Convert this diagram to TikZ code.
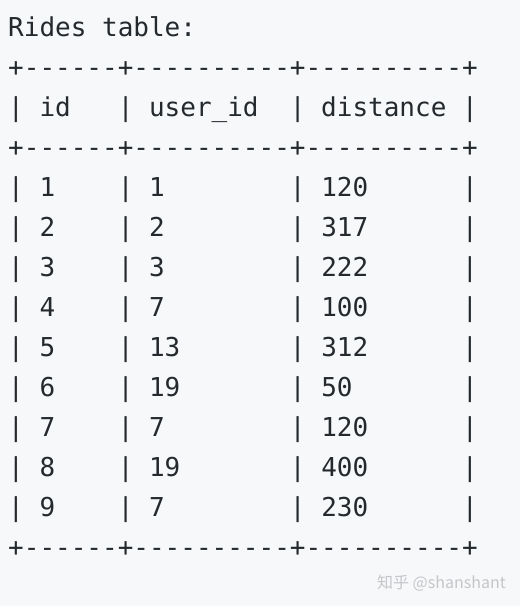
\documentclass[tikz,border=0pt]{standalone}
\usepackage{fontspec}
\setmonofont{DejaVu Sans Mono}
\newfontfamily\cjkfont{Noto Sans CJK SC}
\definecolor{bgc}{HTML}{F6F8FA}
\definecolor{txt}{HTML}{24292E}
\definecolor{wm}{HTML}{C4C6C9}
\begin{document}
\begin{tikzpicture}[x=1pt,y=1pt,
  codeline/.style={anchor=base west,inner sep=0pt,text=txt,font=\ttfamily\fontsize{26}{40}\selectfont}]
\fill[bgc] (0,0) rectangle (520,606);
\useasboundingbox (0,0) rectangle (520,606);
\node[codeline] (l0) at (8,569) {Rides~table:};
\node[codeline] (l1) at (8,529) {+------+----------+----------+};
\node[codeline] (l2) at (8,489) {|~id~~~|~user\_id~~|~distance~|};
\node[codeline] (l3) at (8,449) {+------+----------+----------+};
\node[codeline] (l4) at (8,409) {|~1~~~~|~1~~~~~~~~|~120~~~~~~|};
\node[codeline] (l5) at (8,369) {|~2~~~~|~2~~~~~~~~|~317~~~~~~|};
\node[codeline] (l6) at (8,329) {|~3~~~~|~3~~~~~~~~|~222~~~~~~|};
\node[codeline] (l7) at (8,289) {|~4~~~~|~7~~~~~~~~|~100~~~~~~|};
\node[codeline] (l8) at (8,249) {|~5~~~~|~13~~~~~~~|~312~~~~~~|};
\node[codeline] (l9) at (8,209) {|~6~~~~|~19~~~~~~~|~50~~~~~~~|};
\node[codeline] (l10) at (8,169) {|~7~~~~|~7~~~~~~~~|~120~~~~~~|};
\node[codeline] (l11) at (8,129) {|~8~~~~|~19~~~~~~~|~400~~~~~~|};
\node[codeline] (l12) at (8,89) {|~9~~~~|~7~~~~~~~~|~230~~~~~~|};
\node[codeline] (l13) at (8,49) {+------+----------+----------+};
\node[anchor=east,inner sep=0pt,text=wm,font=\cjkfont\fontsize{16}{18}\selectfont] (wm) at (506,23) {知乎 @shanshant};
\end{tikzpicture}
\end{document}
